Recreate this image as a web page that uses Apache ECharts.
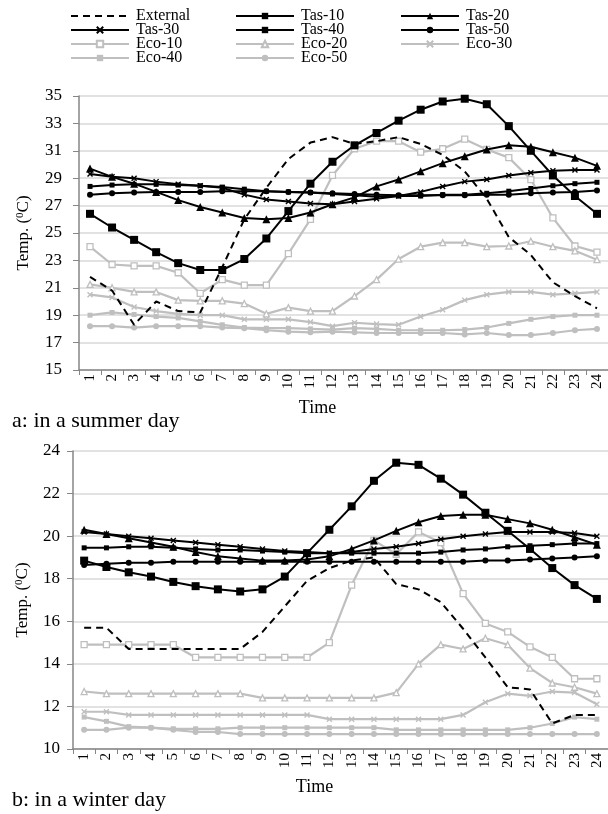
<!DOCTYPE html>
<html>
<head>
<meta charset="utf-8">
<script src="https://cdn.jsdelivr.net/npm/echarts@6/dist/echarts.min.js"></script>
<style>
  html, body { margin: 0; padding: 0; background: #fff; }
  #chart { width: 608px; height: 814px; }
</style>
</head>
<body>
<div id="chart"></div>
<script>
// Hours of the day
const hours = ['1','2','3','4','5','6','7','8','9','10','11','12','13','14','15','16','17','18','19','20','21','22','23','24'];

const seriesNames = ['External','Tas-10','Tas-20','Tas-30','Tas-40','Tas-50','Eco-10','Eco-20','Eco-30','Eco-40','Eco-50'];

// Summer day temperatures (°C)
const summerExternal = [21.8, 20.8, 18.3, 20.0, 19.3, 19.2, 22.5, 26.0, 28.3, 30.4, 31.6, 32.0, 31.5, 31.7, 32.0, 31.5, 30.7, 29.5, 27.5, 24.7, 23.4, 21.4, 20.4, 19.5];
const summerTas10 = [26.4, 25.4, 24.5, 23.6, 22.8, 22.3, 22.3, 23.1, 24.6, 26.6, 28.6, 30.2, 31.4, 32.3, 33.2, 34.0, 34.6, 34.8, 34.4, 32.8, 31.0, 29.2, 27.7, 26.4];
const summerTas20 = [29.7, 29.1, 28.6, 28.0, 27.4, 26.9, 26.5, 26.1, 26.0, 26.1, 26.5, 27.1, 27.6, 28.4, 28.9, 29.5, 30.1, 30.6, 31.1, 31.4, 31.3, 30.9, 30.5, 29.9];
const summerTas30 = [29.3, 29.1, 29.0, 28.75, 28.55, 28.45, 28.3, 27.8, 27.45, 27.3, 27.15, 27.1, 27.3, 27.5, 27.7, 28.0, 28.4, 28.75, 28.9, 29.2, 29.4, 29.55, 29.6, 29.6];
const summerTas40 = [28.4, 28.5, 28.55, 28.55, 28.5, 28.45, 28.35, 28.2, 28.05, 28.0, 27.95, 27.85, 27.75, 27.65, 27.7, 27.7, 27.8, 27.8, 27.9, 28.05, 28.25, 28.45, 28.6, 28.7];
const summerTas50 = [27.8, 27.9, 27.95, 28.0, 28.0, 28.0, 28.05, 28.05, 28.05, 28.0, 27.95, 27.9, 27.85, 27.8, 27.75, 27.75, 27.75, 27.75, 27.8, 27.8, 27.9, 27.95, 28.0, 28.1];
const summerEco10 = [24.0, 22.7, 22.6, 22.6, 22.1, 20.6, 21.6, 21.2, 21.2, 23.5, 26.0, 29.2, 31.15, 31.7, 31.7, 30.9, 31.15, 31.85, 31.1, 30.5, 28.9, 26.1, 24.05, 23.6];
const summerEco20 = [21.25, 21.0, 20.7, 20.7, 20.1, 20.05, 20.05, 19.85, 19.1, 19.55, 19.3, 19.3, 20.4, 21.6, 23.1, 24.0, 24.3, 24.3, 24.0, 24.05, 24.4, 24.0, 23.7, 23.05];
const summerEco30 = [20.5, 20.3, 19.6, 19.3, 19.1, 19.0, 19.0, 18.7, 18.7, 18.7, 18.5, 18.2, 18.45, 18.35, 18.3, 18.9, 19.4, 20.1, 20.5, 20.7, 20.7, 20.5, 20.6, 20.7];
const summerEco40 = [19.0, 19.2, 19.05, 18.9, 18.8, 18.55, 18.3, 18.1, 18.05, 18.05, 18.0, 17.95, 18.05, 18.0, 17.9, 17.9, 17.9, 17.95, 18.1, 18.4, 18.7, 18.9, 19.0, 19.0];
const summerEco50 = [18.2, 18.2, 18.1, 18.2, 18.2, 18.2, 18.1, 18.05, 17.9, 17.8, 17.75, 17.8, 17.75, 17.7, 17.7, 17.7, 17.7, 17.6, 17.7, 17.55, 17.55, 17.7, 17.9, 18.0];

// Winter day temperatures (°C)
const winterExternal = [15.7, 15.7, 14.7, 14.7, 14.7, 14.7, 14.7, 14.7, 15.5, 16.7, 17.9, 18.5, 18.85, 19.0, 17.75, 17.5, 16.9, 15.65, 14.3, 12.9, 12.8, 11.2, 11.6, 11.6];
const winterTas10 = [18.85, 18.55, 18.3, 18.1, 17.85, 17.65, 17.5, 17.4, 17.5, 18.1, 19.2, 20.3, 21.4, 22.6, 23.45, 23.35, 22.7, 21.95, 21.1, 20.25, 19.4, 18.5, 17.7, 17.05];
const winterTas20 = [20.3, 20.1, 19.9, 19.7, 19.5, 19.25, 19.05, 18.95, 18.85, 18.85, 18.9, 19.05, 19.4, 19.8, 20.25, 20.65, 20.95, 21.0, 21.0, 20.8, 20.6, 20.3, 19.95, 19.6];
const winterTas30 = [20.2, 20.1, 20.0, 19.9, 19.8, 19.7, 19.6, 19.5, 19.4, 19.3, 19.25, 19.2, 19.25, 19.4, 19.5, 19.65, 19.85, 20.0, 20.1, 20.2, 20.2, 20.2, 20.15, 20.0];
const winterTas40 = [19.45, 19.45, 19.5, 19.5, 19.45, 19.4, 19.35, 19.35, 19.3, 19.25, 19.2, 19.2, 19.2, 19.2, 19.2, 19.2, 19.25, 19.35, 19.4, 19.5, 19.55, 19.6, 19.65, 19.65];
const winterTas50 = [18.65, 18.7, 18.75, 18.75, 18.8, 18.8, 18.8, 18.8, 18.8, 18.8, 18.8, 18.8, 18.8, 18.8, 18.8, 18.8, 18.8, 18.8, 18.85, 18.85, 18.9, 18.95, 19.0, 19.05];
const winterEco10 = [14.9, 14.9, 14.9, 14.9, 14.9, 14.3, 14.3, 14.3, 14.3, 14.3, 14.3, 15.0, 17.7, 19.8, 19.15, 20.2, 19.7, 17.3, 15.9, 15.5, 14.8, 14.3, 13.3, 13.3];
const winterEco20 = [12.7, 12.6, 12.6, 12.6, 12.6, 12.6, 12.6, 12.6, 12.4, 12.4, 12.4, 12.4, 12.4, 12.4, 12.65, 14.0, 14.9, 14.7, 15.2, 14.9, 13.8, 13.1, 12.9, 12.6];
const winterEco30 = [11.75, 11.75, 11.6, 11.6, 11.6, 11.6, 11.6, 11.6, 11.6, 11.6, 11.6, 11.4, 11.4, 11.4, 11.4, 11.4, 11.4, 11.6, 12.2, 12.6, 12.5, 12.7, 12.65, 12.1];
const winterEco40 = [11.5, 11.3, 11.05, 11.0, 10.95, 10.95, 10.95, 11.0, 11.0, 11.0, 11.0, 11.0, 11.0, 11.0, 10.9, 10.9, 10.9, 10.9, 10.9, 10.9, 11.0, 11.2, 11.5, 11.4];
const winterEco50 = [10.9, 10.9, 11.0, 11.0, 10.9, 10.8, 10.8, 10.7, 10.7, 10.7, 10.7, 10.7, 10.7, 10.7, 10.7, 10.7, 10.7, 10.7, 10.7, 10.7, 10.7, 10.7, 10.7, 10.7];

const summerData = [summerExternal, summerTas10, summerTas20, summerTas30, summerTas40, summerTas50,
                    summerEco10, summerEco20, summerEco30, summerEco40, summerEco50];
const winterData = [winterExternal, winterTas10, winterTas20, winterTas30, winterTas40, winterTas50,
                    winterEco10, winterEco20, winterEco30, winterEco40, winterEco50];

const FONT = '"Liberation Serif", "Times New Roman", serif';
const BLACK = '#000000';
const GREY = '#bfbfbf';
const CROSS = 'path://M0,0L10,10M0,10L10,0';

// Line and marker style per series
const styles = {
  'External': { color: BLACK, symbol: 'none', size: 0, dash: [7, 5] },
  'Tas-10':   { color: BLACK, symbol: 'rect', size: 8 },
  'Tas-20':   { color: BLACK, symbol: 'triangle', size: 8 },
  'Tas-30':   { color: BLACK, symbol: CROSS, size: 5 },
  'Tas-40':   { color: BLACK, symbol: 'rect', size: 5 },
  'Tas-50':   { color: BLACK, symbol: 'circle', size: 6 },
  'Eco-10':   { color: GREY, symbol: 'rect', size: 6, hollow: true },
  'Eco-20':   { color: GREY, symbol: 'triangle', size: 6, hollow: true },
  'Eco-30':   { color: GREY, symbol: CROSS, size: 5 },
  'Eco-40':   { color: GREY, symbol: 'rect', size: 5 },
  'Eco-50':   { color: GREY, symbol: 'circle', size: 6 }
};

function makeSeries(dataSets, axisIndex) {
  return seriesNames.map((name, i) => {
    const s = styles[name];
    return {
      name: name,
      type: 'line',
      xAxisIndex: axisIndex,
      yAxisIndex: axisIndex,
      data: dataSets[i],
      symbol: s.symbol,
      symbolSize: s.size,
      showSymbol: s.symbol !== 'none',
      z: s.color === BLACK ? 3 : 2,
      lineStyle: { color: s.color, width: s.color === GREY ? 2.2 : 2, type: s.dash || 'solid' },
      itemStyle: {
        color: s.hollow ? '#ffffff' : s.color,
        borderColor: s.color,
        borderWidth: s.symbol === CROSS ? 1.4 : (s.hollow ? 1.3 : 0)
      },
      emphasis: { disabled: true }
    };
  });
}

// Legend laid out as three columns, four rows
const legendCols = [70, 235, 400];
const legendRowCentres = [16, 30, 44, 58];
const legends = seriesNames.map((name, i) => {
  const entry = { name: name };
  if (styles[name].symbol === 'none') {
    // plain dashed line, no marker
    entry.itemStyle = { opacity: 0 };
  }
  return {
    data: [entry],
    left: legendCols[i % 3],
    top: legendRowCentres[Math.floor(i / 3)] - 8,
    padding: 0,
    itemWidth: 58,
    itemHeight: 8,
    selectedMode: false,
    textStyle: { fontFamily: FONT, fontSize: 16, color: '#000', padding: [0, 0, 0, 2] }
  };
});

const axisGrey = '#868686';
const gridGrey = '#d9d9d9';

function xAxis(gridIndex) {
  return {
    type: 'category',
    gridIndex: gridIndex,
    data: hours,
    boundaryGap: true,
    axisLine: { lineStyle: { color: axisGrey, width: 1.5 } },
    axisTick: { show: true, interval: 0, length: 5, lineStyle: { color: axisGrey, width: 1 } },
    axisLabel: { interval: 0, rotate: 90, margin: 4, fontFamily: FONT, fontSize: 15, color: '#000' },
    name: 'Time',
    nameLocation: 'middle',
    nameGap: 29,
    nameTextStyle: { fontFamily: FONT, fontSize: 18, color: '#000', padding: [0, 52, 0, 0] }
  };
}

function yAxis(gridIndex, min, max, gap, margin) {
  return {
    type: 'value',
    gridIndex: gridIndex,
    min: min,
    max: max,
    interval: 2,
    axisLine: { show: true, lineStyle: { color: axisGrey, width: 1.5 } },
    axisTick: { show: true, length: 6, lineStyle: { color: axisGrey, width: 1 } },
    axisLabel: { margin: margin, fontFamily: FONT, fontSize: 17, color: '#000' },
    splitLine: { lineStyle: { color: gridGrey, width: 1.5 } },
    name: '{t|Temp. (}{s|0}{t|C)}',
    nameLocation: 'middle',
    nameGap: gap,
    nameRotate: 90,
    nameTextStyle: {
      rich: {
        t: { fontFamily: FONT, fontSize: 17, color: '#000' },
        s: { fontFamily: FONT, fontSize: 11, color: '#000', verticalAlign: 'top', padding: [0, 0, 6, 0] }
      }
    }
  };
}

const chart = echarts.init(document.getElementById('chart'), null, { renderer: 'canvas' });
chart.setOption({
  animation: false,
  backgroundColor: '#ffffff',
  legend: legends,
  grid: [
    { left: 79, top: 96, width: 530, height: 274 },
    { left: 73, top: 451, width: 536, height: 298 }
  ],
  xAxis: [xAxis(0), xAxis(1)],
  yAxis: [yAxis(0, 15, 35, 47, 17), yAxis(1, 10, 24, 42, 13)],
  series: makeSeries(summerData, 0).concat(makeSeries(winterData, 1)),
  graphic: [
    { type: 'text', left: 12, top: 410, style: { text: 'a: in a summer day', fontFamily: FONT, fontSize: 22, fill: '#000' } },
    { type: 'text', left: 12, top: 789, style: { text: 'b: in a winter day', fontFamily: FONT, fontSize: 22, fill: '#000' } }
  ]
});
</script>
</body>
</html>
